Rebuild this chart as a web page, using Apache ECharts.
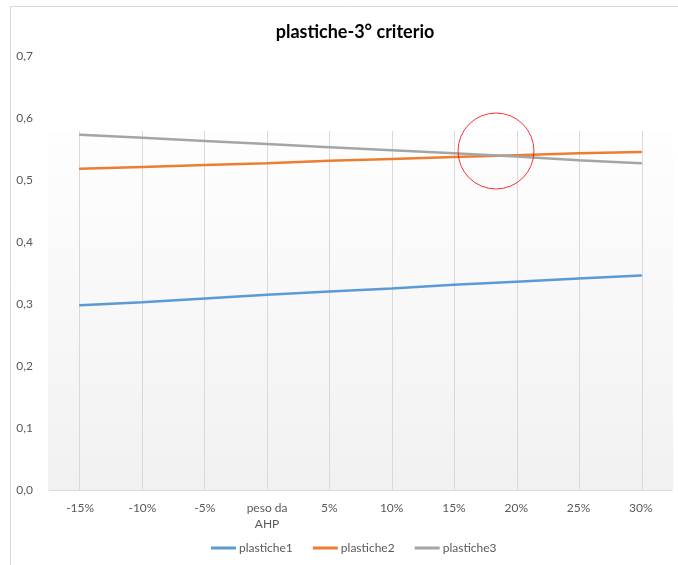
<!DOCTYPE html>
<html>
<head>
<meta charset="utf-8">
<script src="https://cdn.jsdelivr.net/npm/echarts@6/dist/echarts.min.js"></script>
<style>
  html, body { margin: 0; padding: 0; background: #fff; }
  #chart { width: 678px; height: 565px; }
</style>
</head>
<body>
<div id="chart"></div>
<script>
// Weight variation steps around the AHP weight
const categories = ['-15%', '-10%', '-5%', 'peso da\nAHP', '5%', '10%', '15%', '20%', '25%', '30%'];
const plastiche1 = [0.298, 0.303, 0.309, 0.315, 0.320, 0.325, 0.331, 0.336, 0.341, 0.346];
const plastiche2 = [0.518, 0.521, 0.524, 0.527, 0.531, 0.534, 0.537, 0.540, 0.543, 0.545];
const plastiche3 = [0.573, 0.568, 0.563, 0.558, 0.553, 0.548, 0.543, 0.538, 0.532, 0.527];
const seriesNames = ['plastiche1', 'plastiche2', 'plastiche3'];
const yTicks = { min: 0, max: 0.7, interval: 0.1 };

const FONT = 'Lato, "Open Sans", sans-serif';
const colors = ['#5b9bd5', '#ed7d31', '#a5a5a5'];

const chart = echarts.init(document.getElementById('chart'), null, { renderer: 'canvas' });

function lineSeries(name, data, color) {
  return {
    name: name,
    type: 'line',
    data: data,
    xAxisIndex: 0,
    yAxisIndex: 0,
    symbol: 'none',
    smooth: false,
    lineStyle: { color: color, width: 2.5, cap: 'round' },
    itemStyle: { color: color },
    z: 5
  };
}

chart.setOption({
  animation: false,
  backgroundColor: '#ffffff',
  color: colors,
  title: {
    text: 'plastiche-3° criterio',
    left: 350,
    textAlign: 'center',
    top: 18,
    textStyle: { fontFamily: FONT, fontSize: 18, fontWeight: 'bold', color: '#000000' }
  },
  grid: [
    // main value grid
    { left: 49, right: 6, top: 56, bottom: 75, containLabel: false },
    // shaded plot area carrying the vertical gridlines
    {
      left: 48, right: 5, top: 131, bottom: 75, containLabel: false, show: true,
      borderWidth: 0,
      backgroundColor: new echarts.graphic.LinearGradient(0, 0, 0, 1, [
        { offset: 0, color: '#fefefe' },
        { offset: 1, color: '#f1f1f1' }
      ])
    }
  ],
  xAxis: [
    {
      gridIndex: 0,
      type: 'category',
      data: categories,
      boundaryGap: true,
      axisLine: { show: true, lineStyle: { color: '#d9d9d9', width: 1 } },
      axisTick: { show: false },
      axisLabel: {
        color: '#595959', fontFamily: FONT, fontSize: 12, margin: 10, lineHeight: 16,
        interval: 0
      },
      splitLine: { show: false },
      z: 3
    },
    {
      gridIndex: 1,
      type: 'category',
      data: categories,
      boundaryGap: true,
      axisLine: { show: false },
      axisTick: { show: false },
      axisLabel: { show: false },
      splitLine: { show: true, alignWithLabel: true, lineStyle: { color: '#d9d9d9', width: 1 } }
    }
  ],
  yAxis: [
    {
      gridIndex: 0,
      type: 'value',
      min: yTicks.min,
      max: yTicks.max,
      interval: yTicks.interval,
      axisLine: { show: false },
      axisTick: { show: false },
      splitLine: { show: false },
      axisLabel: {
        color: '#595959', fontFamily: FONT, fontSize: 12, margin: 16,
        formatter: v => v.toFixed(1).replace('.', ',')
      }
    },
    {
      gridIndex: 1,
      type: 'value',
      min: 0, max: 1,
      show: false,
      splitLine: { show: false }
    }
  ],
  legend: {
    data: seriesNames,
    bottom: 11,
    left: 211,
    padding: 0,
    itemWidth: 25,
    itemHeight: 3,
    itemGap: 20,
    icon: 'rect',
    textStyle: { color: '#595959', fontFamily: FONT, fontSize: 12, padding: [0, 0, 0, -2] }
  },
  graphic: [
    {
      // outer chart frame
      type: 'rect', z: -10, silent: true,
      shape: { x: 10.5, y: 6.5, width: 700, height: 600 },
      style: { fill: null, stroke: '#d9d9d9', lineWidth: 1 }
    },
    {
      // highlight ring around the crossing point
      type: 'circle', z: 20, silent: true,
      shape: { cx: 496, cy: 151, r: 38 },
      style: { fill: null, stroke: 'rgba(255,0,0,0.8)', lineWidth: 1 }
    }
  ],
  series: [
    lineSeries(seriesNames[0], plastiche1, colors[0]),
    lineSeries(seriesNames[1], plastiche2, colors[1]),
    lineSeries(seriesNames[2], plastiche3, colors[2])
  ]
});
</script>
</body>
</html>
